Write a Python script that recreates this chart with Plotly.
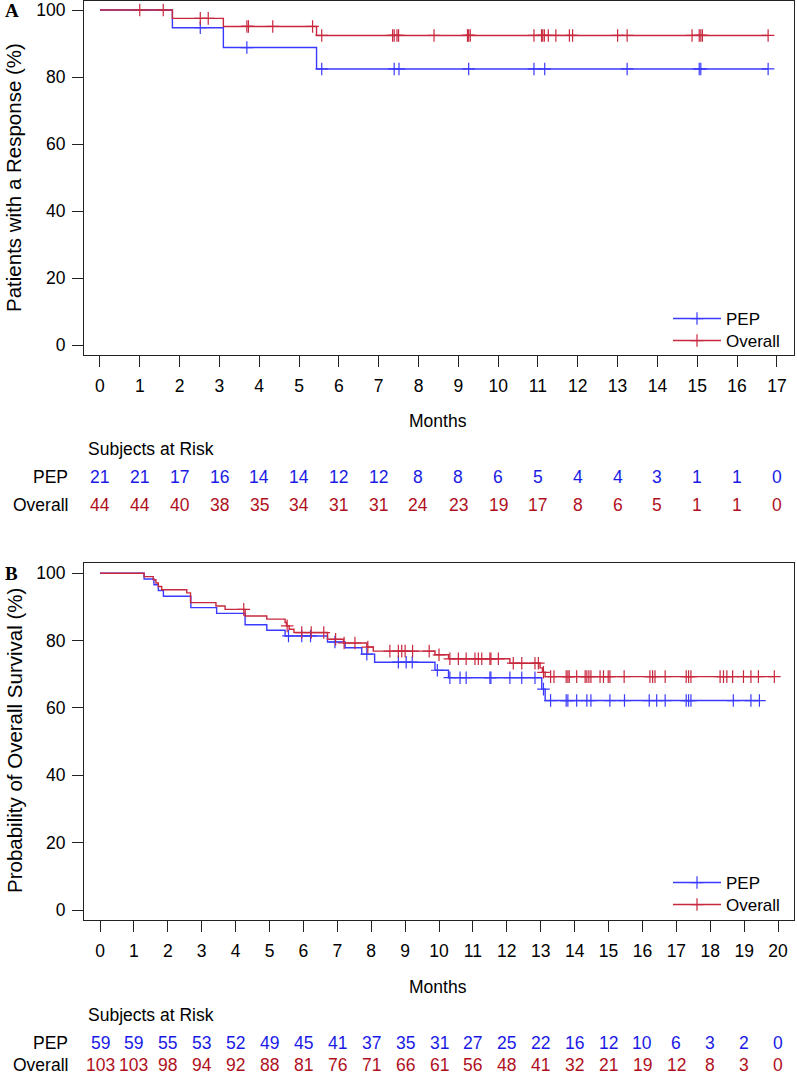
import plotly.graph_objects as go

W, H = 797, 1077

# ---------------- Panel A data (response duration) ----------------
a_pep_t = [0, 1.82, 3.10, 5.44, 16.78]
a_pep_s = [100, 94.7, 88.8, 82.4, 82.4]
a_pep_cens = [2.52, 3.69, 5.57, 7.39, 7.51, 9.26, 10.9, 11.17, 13.24, 15.05, 15.09, 16.78]

a_all_t = [0, 1.82, 3.10, 5.44, 16.78]
a_all_s = [100, 97.5, 95.1, 92.4, 92.4]
a_all_cens = [1.0, 1.59, 2.52, 2.72, 3.69, 3.73, 4.34, 5.34, 5.57, 7.35, 7.39, 7.46, 7.5,
              8.39, 9.23, 9.26, 9.30, 10.9, 11.09, 11.12, 11.16, 11.26, 11.45, 11.79, 11.87,
              13.0, 13.24, 14.87, 15.05, 15.09, 15.13, 16.78]

a_months = list(range(18))
a_risk_pep = [21, 21, 17, 16, 14, 14, 12, 12, 8, 8, 6, 5, 4, 4, 3, 1, 1, 0]
a_risk_all = [44, 44, 40, 38, 35, 34, 31, 31, 24, 23, 19, 17, 8, 6, 5, 1, 1, 0]

# ---------------- Panel B data (overall survival) ----------------
b_pep_t = [0, 1.30, 1.59, 1.72, 1.87, 2.68, 3.44, 4.28, 4.92, 5.46, 6.71, 7.23, 7.72, 8.10,
           9.88, 10.28, 13.03, 13.13, 19.45]
b_pep_s = [100, 98.3, 96.6, 94.9, 93.2, 89.8, 88.1, 84.7, 83.1, 81.4, 79.6, 77.9, 76.0, 73.6,
           71.2, 69.0, 65.6, 62.2, 62.2]
b_pep_cens = [5.56, 5.95, 6.21, 6.93, 7.87, 8.80, 9.03, 9.21, 9.95, 10.32, 10.62, 10.80, 11.50,
              11.53, 12.09, 12.44, 12.83, 13.08, 13.29, 13.75, 13.80, 14.06, 14.36, 14.48, 15.04,
              15.47, 16.20, 16.42, 16.67, 17.29, 17.36, 17.43, 18.68, 19.20, 19.45]

b_all_t = [0, 1.30, 1.57, 1.65, 1.72, 1.82, 2.56, 2.67, 3.42, 3.69, 4.28, 4.92, 5.46, 5.50,
           5.58, 5.72, 6.71, 7.18, 7.87, 8.06, 9.88, 10.28, 12.09, 12.98, 13.05, 13.13, 19.89]
b_all_s = [100, 99.0, 98.1, 97.1, 96.1, 95.1, 94.2, 91.3, 90.3, 89.3, 87.3, 86.4, 85.4, 84.4,
           83.4, 82.4, 80.4, 79.3, 78.1, 76.9, 75.8, 74.6, 73.3, 71.9, 70.6, 69.3, 69.3]
b_all_cens = [4.24, 5.52, 5.95, 6.23, 6.60, 6.95, 7.20, 7.52, 7.90, 8.55, 8.80, 8.90, 9.0, 9.22,
              9.71, 10.0, 10.32, 10.57, 10.80, 11.06, 11.16, 11.26, 11.50, 11.53, 11.75, 12.19,
              12.44, 12.83, 12.93, 13.08, 13.29, 13.39, 13.75, 13.80, 13.84, 14.06, 14.31, 14.36,
              14.42, 14.48, 14.75, 14.85, 14.99, 15.04, 15.46, 16.22, 16.30, 16.37, 16.67, 17.29,
              17.36, 17.43, 18.29, 18.39, 18.49, 18.66, 18.98, 19.20, 19.42, 19.89]

b_months = list(range(21))
b_risk_pep = [59, 59, 55, 53, 52, 49, 45, 41, 37, 35, 31, 27, 25, 22, 16, 12, 10, 6, 3, 2, 0]
b_risk_all = [103, 103, 98, 94, 92, 88, 81, 76, 71, 66, 61, 56, 48, 41, 32, 21, 19, 12, 8, 3, 0]

groups = ["PEP", "Overall"]

# ---------------- styling ----------------
BLUE_LINE = "#3a3aff"
RED_LINE = "#c8283e"
BLUE_TXT = "#1a1ae6"
RED_TXT = "#b0101e"
AX = "#222222"
FONT = "Liberation Sans, Arial, sans-serif"
FS = 17.5


def surv_at(ts, ss, t):
    v = ss[0]
    for ti, si in zip(ts, ss):
        if ti <= t:
            v = si
    return v


def px(p):
    return p / W


def py(p):
    return 1 - p / H


fig = go.Figure()

panels = [
    dict(xa="x", ya="y", legs=["legend", "legend2"],
         curves=[(a_pep_t, a_pep_s, a_pep_cens, BLUE_LINE), (a_all_t, a_all_s, a_all_cens, RED_LINE)]),
    dict(xa="x2", ya="y2", legs=["legend3", "legend4"],
         curves=[(b_pep_t, b_pep_s, b_pep_cens, BLUE_LINE), (b_all_t, b_all_s, b_all_cens, RED_LINE)]),
]


def cens_marker(col):
    return dict(symbol="cross-thin", size=9, color=col, line=dict(color=col, width=1.2))


for pan in panels:
    for name, (ts, ss, cens, col) in zip(groups, pan["curves"]):
        fig.add_trace(go.Scatter(x=ts, y=ss, mode="lines", line=dict(color=col, width=1.4, shape="hv"),
                                 xaxis=pan["xa"], yaxis=pan["ya"], showlegend=False, hoverinfo="skip"))
        fig.add_trace(go.Scatter(x=cens, y=[surv_at(ts, ss, c) for c in cens], mode="markers",
                                 marker=cens_marker(col),
                                 xaxis=pan["xa"], yaxis=pan["ya"], showlegend=False, hoverinfo="skip"))
    for name, leg, (_, _, _, col) in zip(groups, pan["legs"], pan["curves"]):
        fig.add_trace(go.Scatter(x=[None], y=[None], mode="lines+markers", name=name,
                                 line=dict(color=col, width=1.4), marker=cens_marker(col),
                                 xaxis=pan["xa"], yaxis=pan["ya"], legend=leg))

axis_common = dict(showline=True, mirror=True, linecolor=AX, linewidth=1.2, ticks="outside",
                   ticklen=11, tickwidth=1.2, tickcolor=AX, showgrid=False, zeroline=False,
                   tickfont=dict(family=FONT, size=FS, color="black"))


def leg(y_center):
    return dict(x=px(668), y=py(y_center), xanchor="left", yanchor="middle", bgcolor="rgba(0,0,0,0)",
                font=dict(family=FONT, size=17), itemwidth=48)


fig.update_layout(
    width=W, height=H, margin=dict(l=0, r=0, t=0, b=0),
    paper_bgcolor="white", plot_bgcolor="white",
    font=dict(family=FONT, size=FS, color="black"),
    xaxis=dict(domain=[px(84), px(794)], range=[-0.40, 17.43], tickvals=a_months, anchor="y",
               ticklabelstandoff=4, **axis_common),
    yaxis=dict(domain=[py(355), py(1)], range=[-2.985, 102.69], tickvals=[0, 20, 40, 60, 80, 100],
               anchor="x", ticklabelstandoff=3, **axis_common),
    xaxis2=dict(domain=[px(84), px(794)], range=[-0.472, 20.47], tickvals=b_months, anchor="y2",
                ticklabelstandoff=4, **axis_common),
    yaxis2=dict(domain=[py(920), py(563)], range=[-2.97, 103.06], tickvals=[0, 20, 40, 60, 80, 100],
                anchor="x2", ticklabelstandoff=3, **axis_common),
    legend=leg(319), legend2=leg(341), legend3=leg(883), legend4=leg(905),
)

ann = []
# panel letters
ann.append(dict(text="<b>A</b>", x=px(4), y=py(10), xanchor="left", yanchor="middle",
                font=dict(family="Liberation Serif, Times New Roman, serif", size=19)))
ann.append(dict(text="<b>B</b>", x=px(4), y=py(573), xanchor="left", yanchor="middle",
                font=dict(family="Liberation Serif, Times New Roman, serif", size=19)))
# y titles
ann.append(dict(text="Patients with a Response (%)", x=px(14), y=py(178), textangle=-90,
                xanchor="center", yanchor="middle", font=dict(family=FONT, size=20.5)))
ann.append(dict(text="Probability of Overall Survival (%)", x=px(14), y=py(741), textangle=-90,
                xanchor="center", yanchor="middle", font=dict(family=FONT, size=20.5)))

tables = [
    ("x", a_months, a_risk_pep, a_risk_all, 421, 449, 477, 505),
    ("x2", b_months, b_risk_pep, b_risk_all, 987, 1015, 1043, 1065),
]
for xr, months, rp, ra, y_m, y_s, y_p, y_o in tables:
    ann.append(dict(text="Months", x=px(438), y=py(y_m), xanchor="center", yanchor="middle",
                    font=dict(family=FONT, size=FS)))
    ann.append(dict(text="Subjects at Risk", x=px(87), y=py(y_s), xanchor="left", yanchor="middle",
                    font=dict(family=FONT, size=FS)))
    for label, y_row, vals, col in [(groups[0], y_p, rp, BLUE_TXT), (groups[1], y_o, ra, RED_TXT)]:
        ann.append(dict(text=label, x=px(69), y=py(y_row), xanchor="right", yanchor="middle",
                        font=dict(family=FONT, size=FS)))
        for m, v in zip(months, vals):
            ann.append(dict(text=str(v), x=m, xref=xr, y=py(y_row), xanchor="center", yanchor="middle",
                            font=dict(family=FONT, size=FS, color=col)))

for a in ann:
    a.setdefault("xref", "paper")
    a["yref"] = "paper"
    a["showarrow"] = False
    a["borderpad"] = 0
fig.update_layout(annotations=ann)

# the page's default 8px body margin would push the figure off its 797x1077 frame
fig.write_html("out.html", config={"displayModeBar": False},
               post_script="document.body.style.margin='0px';")
